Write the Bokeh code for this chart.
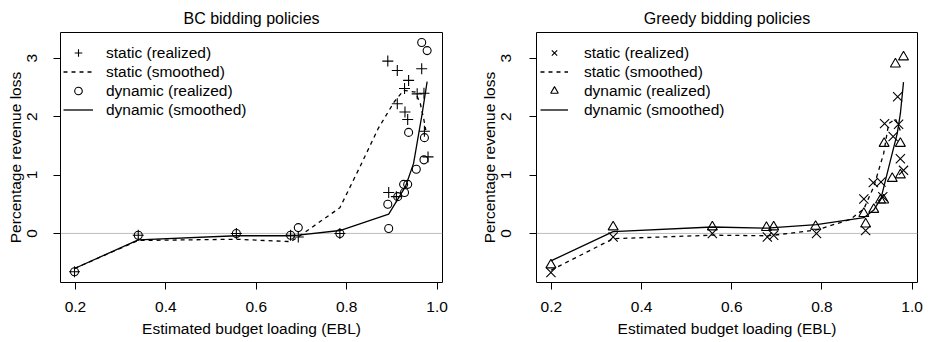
from bokeh.plotting import figure
from bokeh.layouts import row
from bokeh.models import Span, Legend, LegendItem, FixedTicker, Range1d
from bokeh.embed import file_html
from bokeh.resources import INLINE

# ---------------- data ----------------
panel_titles = ["BC bidding policies", "Greedy bidding policies"]
x_label = "Estimated budget loading (EBL)"
y_label = "Percentage revenue loss"
legend_labels = ["static (realized)", "static (smoothed)", "dynamic (realized)", "dynamic (smoothed)"]
x_ticks = [0.2, 0.4, 0.6, 0.8, 1.0]
x_tick_labels = ["0.2", "0.4", "0.6", "0.8", "1.0"]
y_ticks = [0, 1, 2, 3]
y_tick_labels = ["0", "1", "2", "3"]

# BC panel
bc_static_x = [0.198, 0.339, 0.556, 0.676, 0.693, 0.785, 0.891, 0.893, 0.910, 0.912, 0.912, 0.928, 0.929, 0.935, 0.937, 0.956, 0.966, 0.971, 0.972, 0.980]
bc_static_y = [-0.655, -0.03, 0.0, -0.03, -0.06, 0.0, 2.95, 0.70, 0.63, 2.79, 2.22, 2.48, 2.08, 1.95, 2.62, 2.39, 2.82, 2.40, 1.75, 1.31]
bc_dynamic_x = [0.198, 0.339, 0.556, 0.676, 0.693, 0.785, 0.891, 0.893, 0.913, 0.926, 0.928, 0.935, 0.937, 0.954, 0.966, 0.971, 0.972, 0.978]
bc_dynamic_y = [-0.655, -0.03, 0.0, -0.03, 0.10, 0.0, 0.50, 0.085, 0.63, 0.84, 0.70, 0.84, 1.73, 1.10, 3.27, 1.26, 1.64, 3.13]
bc_static_smooth_x = [0.198, 0.339, 0.556, 0.676, 0.693, 0.785, 0.830, 0.870, 0.905, 0.926, 0.952, 0.963, 0.971, 0.975]
bc_static_smooth_y = [-0.60, -0.12, -0.10, -0.14, -0.06, 0.44, 1.15, 1.80, 2.25, 2.45, 2.42, 2.22, 1.94, 1.77]
bc_dynamic_smooth_x = [0.198, 0.339, 0.556, 0.676, 0.693, 0.785, 0.893, 0.930, 0.948, 0.967, 0.978]
bc_dynamic_smooth_y = [-0.60, -0.11, -0.04, -0.04, -0.03, 0.05, 0.33, 0.80, 1.20, 2.05, 2.60]

# Greedy panel
gr_static_x = [0.199, 0.337, 0.557, 0.679, 0.693, 0.788, 0.893, 0.897, 0.914, 0.931, 0.935, 0.939, 0.958, 0.968, 0.970, 0.974, 0.981]
gr_static_y = [-0.67, -0.06, 0.0, -0.06, -0.03, 0.0, 0.59, 0.05, 0.87, 0.88, 0.63, 1.88, 1.66, 2.34, 1.87, 1.28, 1.08]
gr_dynamic_x = [0.199, 0.337, 0.557, 0.677, 0.693, 0.786, 0.893, 0.897, 0.915, 0.930, 0.937, 0.938, 0.956, 0.963, 0.974, 0.974, 0.981]
gr_dynamic_y = [-0.54, 0.11, 0.11, 0.10, 0.11, 0.12, 0.34, 0.16, 0.41, 0.57, 0.57, 1.54, 0.94, 2.90, 1.00, 1.54, 3.02]
gr_static_smooth_x = [0.199, 0.337, 0.557, 0.679, 0.693, 0.788, 0.863, 0.893, 0.915, 0.937, 0.948, 0.963, 0.974]
gr_static_smooth_y = [-0.63, -0.09, -0.03, -0.04, -0.03, 0.06, 0.24, 0.42, 0.80, 1.37, 1.88, 1.96, 1.76]
gr_dynamic_smooth_x = [0.199, 0.337, 0.557, 0.679, 0.693, 0.788, 0.893, 0.915, 0.931, 0.952, 0.967, 0.974, 0.981]
gr_dynamic_smooth_y = [-0.47, 0.03, 0.11, 0.09, 0.10, 0.15, 0.27, 0.40, 0.60, 1.25, 1.71, 2.05, 2.59]

FONT = "Liberation Sans"
FS = "15.5px"


def make_panel(title, sx, sy, dx, dy, ssx, ssy, dsx, dsy, s_marker, d_marker,
               s_size, d_size, border_left, border_right, frame_w,
               leg_x, glyph_w, leg_standoff, ytick_standoff, ylabel_standoff):
    p = figure(frame_width=frame_w, frame_height=250,
               min_border_left=border_left, min_border_right=border_right,
               min_border_top=32, min_border_bottom=60,
               x_range=Range1d(0.167, 1.012), y_range=Range1d(-0.84, 3.44),
               output_backend="svg", toolbar_location=None,
               background_fill_color="white", border_fill_color="white")
    p.title.text = title
    p.title.align = "center"
    p.title.text_font = FONT
    p.title.text_font_size = "16px"
    p.title.text_font_style = "normal"
    p.title.text_color = "black"
    p.title.standoff = 12

    p.grid.visible = False
    p.outline_line_color = "black"
    p.outline_line_width = 1

    for ax in (p.xaxis[0], p.yaxis[0]):
        ax.axis_line_color = None
        ax.major_tick_out = 7
        ax.major_tick_in = 0
        ax.minor_tick_line_color = None
        ax.major_tick_line_color = "black"
        ax.major_label_text_font = FONT
        ax.major_label_text_font_size = FS
        ax.major_label_text_color = "black"
        ax.axis_label_text_font = FONT
        ax.axis_label_text_font_size = FS
        ax.axis_label_text_font_style = "normal"
        ax.axis_label_text_color = "black"

    p.xaxis.ticker = FixedTicker(ticks=x_ticks)
    p.xaxis.major_label_overrides = dict(zip(x_ticks, x_tick_labels))
    p.xaxis.axis_label = x_label
    p.xaxis.major_label_standoff = 12
    p.xaxis.axis_label_standoff = 5

    p.yaxis.ticker = FixedTicker(ticks=y_ticks)
    p.yaxis.major_label_overrides = dict(zip(y_ticks, y_tick_labels))
    p.yaxis.major_label_orientation = "vertical"
    p.yaxis.axis_label = y_label
    p.yaxis.major_label_standoff = ytick_standoff
    p.yaxis.axis_label_standoff = ylabel_standoff

    p.add_layout(Span(location=0, dimension="width", line_color="#bebebe", line_width=1, level="underlay"))

    r1 = p.scatter(sx, sy, marker=s_marker, size=s_size, line_color="black", fill_color=None, line_width=1.1)
    r2 = p.line(ssx, ssy, line_color="black", line_width=1.3, line_dash="4 4")
    r3 = p.scatter(dx, dy, marker=d_marker, size=d_size, line_color="black", fill_color=None, line_width=1.1)
    r4 = p.line(dsx, dsy, line_color="black", line_width=1.3)

    legend = Legend(items=[LegendItem(label=legend_labels[0], renderers=[r1]),
                           LegendItem(label=legend_labels[1], renderers=[r2]),
                           LegendItem(label=legend_labels[2], renderers=[r3]),
                           LegendItem(label=legend_labels[3], renderers=[r4])],
                    location=(leg_x, 163), orientation="vertical",
                    glyph_width=glyph_w, glyph_height=19, label_height=19,
                    label_standoff=leg_standoff, spacing=0, padding=0, margin=0,
                    label_text_font=FONT, label_text_font_size=FS,
                    label_text_color="black",
                    border_line_color=None, background_fill_color=None,
                    background_fill_alpha=0)
    p.add_layout(legend, "center")
    return p


p1 = make_panel(panel_titles[0], bc_static_x, bc_static_y, bc_dynamic_x, bc_dynamic_y,
                bc_static_smooth_x, bc_static_smooth_y, bc_dynamic_smooth_x, bc_dynamic_smooth_y,
                "cross", "circle", 11, 8, 60, 22, 382, 3, 30, 13, 16, 1)
p2 = make_panel(panel_titles[1], gr_static_x, gr_static_y, gr_dynamic_x, gr_dynamic_y,
                gr_static_smooth_x, gr_static_smooth_y, gr_dynamic_smooth_x, gr_dynamic_smooth_y,
                "x", "triangle", 13, 10, 72, 12, 381, 4, 28, 16, 18, 1)

layout = row(p1, p2, spacing=0)
open("out.html", "w").write(file_html(layout, INLINE))
